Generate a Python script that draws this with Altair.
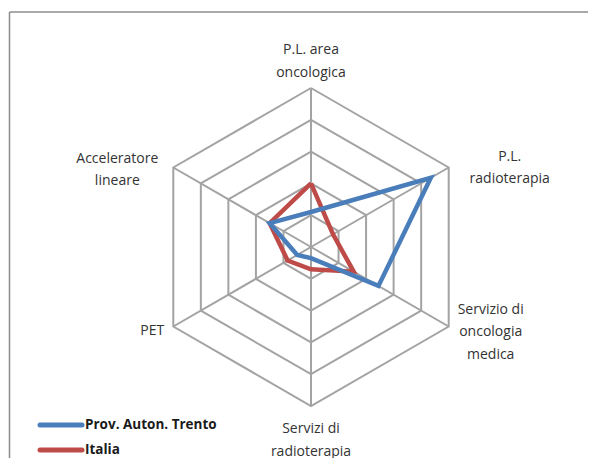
import altair as alt
import pandas as pd

# ---- data ----
categories = ["P.L. area oncologica", "P.L. radioterapia", "Servizio di oncologia medica",
              "Servizi di radioterapia", "PET", "Acceleratore lineare"]
category_labels = ["P.L. area\noncologica", "P.L.\nradioterapia", "Servizio di\noncologia\nmedica",
                   "Servizi di\nradioterapia", "PET", "Acceleratore\nlineare"]
series_names = ["Prov. Auton. Trento", "Italia"]
trento = [1.1, 4.35, 2.45, 0.35, 0.5, 1.5]
italia = [2.0, 0.8, 1.55, 0.7, 0.85, 1.5]
rings = [1, 2, 3, 4, 5]

# ---- styles / layout ----
colors = {"Prov. Auton. Trento": "#4A7EBB", "Italia": "#BE4B48"}
FONT = "Open Sans"
W, H = 580, 450
PPU = 31.8  # pixels per ring unit
CX, CY = 311 - 8, 247 - 8
xmin = -CX / PPU
xmax = xmin + W / PPU
ymax = CY / PPU
ymin = ymax - H / PPU
xscale = alt.Scale(domain=[xmin, xmax], nice=False, zero=False)
yscale = alt.Scale(domain=[ymin, ymax], nice=False, zero=False)
label_offsets = [(0, -38), (61, -11), (42, -17), (0, 23), (-21, 4), (-56, -9)]

n = len(categories)
px = f"datum.value * sin(datum.idx * 2 * PI / {n})"
py = f"datum.value * cos(datum.idx * 2 * PI / {n})"

def X(field):
    return alt.X(field, type="quantitative", scale=xscale, axis=None)

def Y(field):
    return alt.Y(field, type="quantitative", scale=yscale, axis=None)

# grid rings
grid_df = pd.DataFrame([{"ring": r, "idx": i, "value": r} for r in rings for i in range(n + 1)])
grid = alt.Chart(grid_df).transform_calculate(px=px, py=py).mark_line(
    color="#A3A3A3", strokeWidth=2).encode(
    x=X("px"), y=Y("py"), detail="ring:N", order="idx:Q")

# spokes
spoke_df = pd.DataFrame([{"idx": i, "value": max(rings)} for i in range(n)])
spokes = alt.Chart(spoke_df).transform_calculate(px=px, py=py, zero="0").mark_rule(
    color="#A3A3A3", strokeWidth=2).encode(
    x=X("zero"), x2="px:Q", y=Y("zero"), y2="py:Q")

# series
def series_layer(name, vals):
    df = pd.DataFrame([{"series": name, "idx": i, "value": vals[i % n]} for i in range(n + 1)])
    return alt.Chart(df).transform_calculate(px=px, py=py).mark_line(
        color=colors[name], strokeWidth=4.5, strokeJoin="miter").encode(
        x=X("px"), y=Y("py"), order="idx:Q")

lines = [series_layer("Italia", italia), series_layer("Prov. Auton. Trento", trento)]

# category labels
label_layers = []
for i, lab in enumerate(category_labels):
    df = pd.DataFrame([{"idx": i, "value": max(rings), "label": lab}])
    dx, dy = label_offsets[i]
    label_layers.append(
        alt.Chart(df).transform_calculate(px=px, py=py).mark_text(
            font=FONT, fontSize=14, color="#333333", align="center", baseline="middle",
            lineBreak="\n", lineHeight=22.5, dx=dx, dy=dy).encode(
            x=X("px"), y=Y("py"), text="label:N"))

# legend (manual)
legend_layers = []
for k, name in enumerate(series_names):
    df = pd.DataFrame([{"series": name}])
    yy = 417 + 25 * k
    legend_layers.append(alt.Chart(df).mark_rule(color=colors[name], strokeWidth=5, strokeCap="round").encode(
        x=alt.value(32), x2=alt.value(74), y=alt.value(yy)))
    legend_layers.append(alt.Chart(df).mark_text(
        font=FONT, fontSize=13.5, fontWeight="bold", color="#1a1a1a", align="left", baseline="middle").encode(
        x=alt.value(77), y=alt.value(yy), text="series:N"))

# frame
one = pd.DataFrame({"a": [0]})
frame_left = alt.Chart(one).mark_rule(color="#8C8C8C", strokeWidth=1.5).encode(
    x=alt.value(1.5), y=alt.value(4), y2=alt.value(H))
frame_top = alt.Chart(one).mark_rule(color="#8C8C8C", strokeWidth=1.5).encode(
    x=alt.value(1.5), x2=alt.value(W), y=alt.value(4))

chart = alt.layer(frame_left, frame_top, grid, spokes, *lines, *label_layers, *legend_layers).properties(
    width=W, height=H, padding=0, autosize=alt.AutoSizeParams(type="none"),
    background="white").configure_view(stroke=None)

chart.save("out.html", embed_options={"renderer": "svg", "actions": False})
